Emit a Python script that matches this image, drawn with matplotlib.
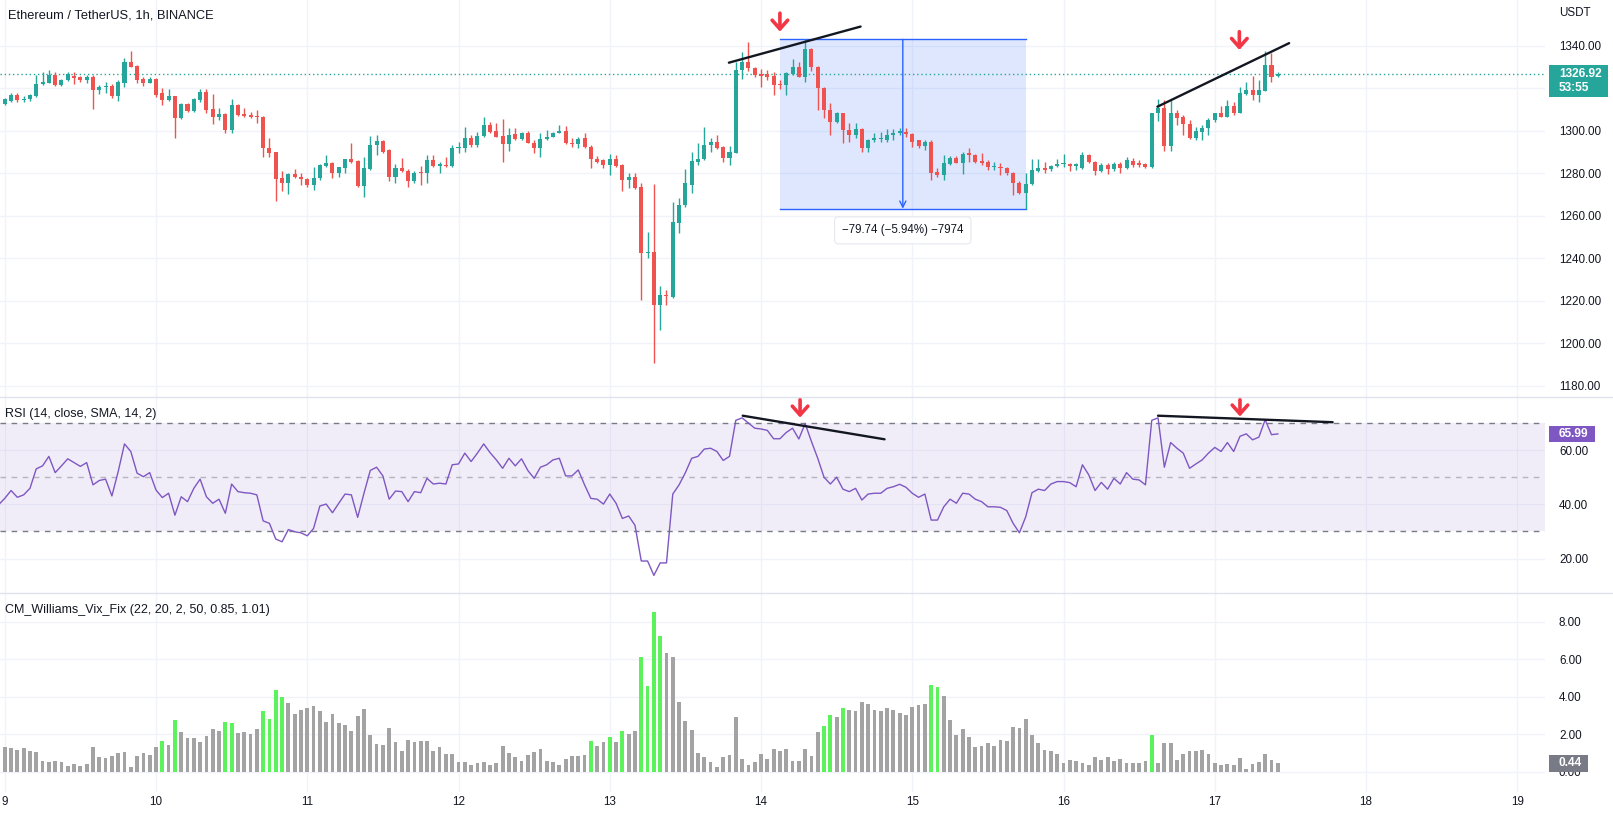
import numpy as np
import matplotlib
matplotlib.use('Agg')
import matplotlib.pyplot as plt
from matplotlib.patches import Rectangle
from matplotlib.lines import Line2D
from matplotlib.transforms import blended_transform_factory

plt.rcParams['font.family'] = ['Liberation Sans', 'DejaVu Sans']

# ---------------- data ----------------
first_hour = -1           # hours since the 9th, 00:00 (first bar = 8th 23:00)
days = list(range(9, 20))

opens = [1310.7,1312.7,1314.3,1317.0,1314.6,1314.9,1316.5,1322.1,1322.7,1326.5,
 1321.4,1324.0,1326.0,1325.3,1324.0,1325.3,1319.3,1320.5,1321.2,1316.2,
 1322.7,1332.6,1330.7,1324.5,1322.7,1324.5,1317.9,1314.6,1316.5,1306.0,
 1312.7,1309.6,1314.6,1318.5,1310.5,1306.7,1307.9,1300.5,1312.2,1307.9,
 1307.5,1307.2,1306.7,1291.8,1289.9,1277.7,1275.7,1279.8,1278.5,1277.4,
 1274.6,1277.7,1283.7,1284.8,1280.4,1282.7,1286.7,1286.0,1274.3,1282.1,
 1293.3,1295.2,1291.1,1278.5,1282.4,1281.3,1276.2,1280.9,1280.1,1286.4,
 1283.5,1284.0,1283.5,1291.8,1291.8,1296.6,1293.4,1297.6,1302.8,1300.0,
 1297.6,1293.9,1298.6,1296.1,1299.2,1294.5,1291.8,1296.1,1297.3,1299.2,
 1300.0,1294.5,1293.9,1296.6,1292.6,1287.0,1286.4,1284.0,1287.0,1284.0,
 1276.9,1278.2,1273.5,1242.4,1242.9,1218.1,1222.8,1222.0,1256.9,1265.2,
 1274.6,1285.6,1286.7,1293.4,1295.0,1292.6,1287.2,1289.8,1328.7,1332.6,
 1329.5,1326.8,1326.8,1325.9,1321.9,1321.6,1326.8,1330.3,1325.6,1338.4,
 1330.3,1320.1,1309.9,1304.4,1308.3,1300.2,1298.1,1300.8,1291.8,1295.8,
 1296.1,1295.8,1298.1,1299.2,1299.7,1298.6,1295.5,1292.9,1295.0,1280.9,
 1279.3,1284.5,1287.2,1285.1,1289.5,1288.7,1286.0,1285.6,1282.9,1283.2,
 1282.4,1280.4,1275.7,1270.7,1275.1,1281.3,1282.4,1281.9,1283.5,1284.3,
 1284.5,1283.5,1282.4,1288.7,1285.6,1281.3,1284.0,1282.0,1284.5,1282.4,
 1286.0,1284.8,1284.5,1282.9,1308.3,1310.7,1293.1,1308.3,1306.4,1303.3,
 1296.6,1299.7,1301.3,1305.2,1308.3,1306.7,1311.8,1308.6,1317.5,1319.3,
 1317.0,1319.0,1331.1,1325.9]

highs = [1313.8,1315.7,1317.8,1318.0,1316.2,1317.5,1326.4,1327.5,1328.7,1327.5,
 1324.5,1327.5,1327.5,1326.0,1326.2,1326.2,1321.6,1323.2,1322.0,1324.0,
 1334.2,1337.8,1331.0,1325.6,1325.3,1324.8,1320.1,1319.6,1316.5,1313.0,
 1313.3,1315.4,1319.6,1319.6,1317.2,1310.7,1308.3,1314.9,1312.7,1310.7,
 1309.1,1309.9,1307.1,1296.6,1290.3,1281.3,1280.4,1282.0,1280.1,1277.7,
 1283.2,1284.5,1288.7,1285.6,1283.2,1287.0,1294.5,1286.4,1287.9,1297.6,
 1298.3,1295.8,1291.4,1284.5,1287.2,1281.9,1281.0,1283.5,1288.7,1288.7,
 1285.6,1287.9,1293.4,1295.0,1302.0,1298.2,1299.7,1306.4,1304.4,1303.6,
 1305.5,1301.6,1301.6,1299.7,1300.0,1295.8,1298.9,1300.5,1299.7,1302.8,
 1302.4,1296.6,1297.0,1298.9,1293.4,1288.2,1286.7,1289.2,1288.7,1284.3,
 1280.4,1280.1,1275.4,1252.6,1275.1,1227.1,1225.3,1266.7,1268.3,1282.0,
 1290.3,1294.5,1301.7,1296.6,1298.1,1292.9,1292.9,1332.6,1336.9,1342.0,
 1330.3,1329.2,1328.7,1327.6,1324.0,1327.9,1333.7,1332.6,1343.1,1338.9,
 1330.6,1320.5,1313.0,1309.1,1308.6,1303.9,1303.9,1301.2,1296.1,1298.9,
 1299.7,1300.8,1300.8,1301.2,1301.2,1298.9,1295.8,1295.8,1295.5,1282.4,
 1288.7,1288.0,1288.0,1290.3,1291.8,1289.2,1289.8,1286.4,1285.6,1284.8,
 1283.2,1280.9,1276.2,1280.1,1286.7,1286.7,1285.6,1284.0,1286.7,1289.2,
 1284.8,1284.8,1290.3,1289.2,1286.0,1284.8,1284.8,1285.6,1285.6,1287.6,
 1287.2,1286.4,1284.8,1308.6,1314.9,1314.6,1314.6,1309.9,1307.5,1305.2,
 1301.7,1302.8,1306.0,1308.6,1311.8,1314.6,1313.8,1320.5,1323.2,1325.9,
 1324.0,1337.8,1336.6,1327.5]

lows = [1310.2,1312.2,1313.8,1313.8,1313.8,1314.3,1315.9,1321.6,1322.4,1321.0,
 1321.0,1323.5,1322.0,1323.0,1322.4,1310.2,1317.2,1317.7,1315.5,1314.3,
 1320.5,1330.0,1322.7,1320.9,1322.4,1315.9,1312.2,1314.3,1296.6,1305.5,
 1309.0,1309.1,1313.8,1308.3,1303.3,1305.2,1299.2,1299.2,1307.0,1306.4,
 1306.0,1303.6,1287.9,1287.9,1267.1,1271.9,1270.4,1277.7,1274.6,1273.8,
 1272.2,1276.9,1283.2,1278.0,1278.5,1280.1,1284.8,1273.8,1269.1,1281.7,
 1288.7,1289.5,1276.5,1275.7,1280.8,1273.8,1275.7,1274.6,1275.4,1283.0,
 1280.1,1283.2,1283.2,1289.5,1290.3,1292.6,1292.6,1297.3,1298.9,1297.0,
 1285.6,1290.7,1295.8,1295.8,1294.2,1289.5,1287.6,1295.8,1297.0,1298.9,
 1293.9,1292.6,1291.9,1291.8,1282.4,1284.8,1282.4,1279.3,1283.0,1271.9,
 1273.0,1272.6,1220.5,1240.1,1190.6,1206.4,1218.1,1221.2,1251.9,1264.4,
 1270.7,1284.0,1286.4,1290.3,1291.4,1285.6,1284.0,1289.5,1324.3,1328.0,
 1325.6,1320.5,1324.0,1317.0,1319.6,1317.0,1326.4,1325.3,1323.2,1328.4,
 1309.9,1306.0,1298.1,1303.9,1294.2,1295.0,1296.6,1290.3,1290.3,1295.0,
 1295.0,1295.0,1295.8,1298.0,1297.3,1292.6,1291.8,1291.1,1276.9,1278.5,
 1276.9,1284.0,1284.8,1279.8,1285.6,1284.8,1284.0,1281.7,1281.7,1279.3,
 1279.3,1269.9,1270.4,1263.4,1274.6,1280.9,1280.4,1281.3,1283.2,1283.2,
 1281.3,1281.6,1282.0,1284.8,1279.3,1280.9,1279.8,1281.3,1280.4,1282.0,
 1283.2,1283.2,1282.4,1282.4,1304.9,1290.7,1290.7,1302.8,1298.1,1296.1,
 1295.8,1295.8,1298.1,1304.4,1306.4,1306.4,1307.6,1308.3,1317.0,1314.6,
 1313.8,1318.6,1323.2,1325.6]

closes = [1313.0,1314.9,1317.0,1314.6,1315.2,1317.0,1322.1,1323.2,1326.5,1321.4,
 1324.0,1326.8,1325.1,1324.0,1325.3,1319.3,1320.5,1321.2,1316.2,1323.2,
 1332.6,1330.3,1324.0,1322.7,1324.5,1317.0,1314.6,1316.5,1306.3,1312.7,
 1309.4,1314.9,1318.5,1309.9,1306.7,1307.9,1300.5,1312.2,1307.5,1307.1,
 1306.7,1306.4,1291.8,1289.8,1277.4,1275.7,1279.8,1278.2,1277.3,1274.6,
 1277.7,1284.0,1284.8,1280.4,1282.9,1286.7,1285.6,1274.3,1282.4,1293.3,
 1295.2,1290.3,1278.5,1282.4,1281.3,1276.2,1280.4,1280.1,1286.4,1283.5,
 1284.5,1283.5,1291.8,1292.6,1296.6,1293.4,1297.6,1302.8,1299.7,1297.3,
 1293.9,1298.1,1296.1,1298.9,1294.5,1291.8,1296.1,1297.3,1299.2,1300.0,
 1294.2,1293.9,1296.1,1292.3,1286.7,1285.6,1284.0,1287.0,1283.5,1276.9,
 1278.5,1273.3,1242.4,1243.2,1218.1,1222.8,1222.4,1257.3,1265.2,1275.4,
 1286.0,1286.7,1293.4,1295.0,1291.8,1287.2,1290.3,1328.7,1332.6,1329.5,
 1326.4,1325.9,1325.6,1321.6,1321.4,1327.1,1330.3,1325.6,1338.4,1330.3,
 1320.1,1309.9,1304.4,1308.3,1300.2,1298.1,1300.8,1291.8,1295.8,1296.6,
 1296.6,1298.1,1299.2,1300.0,1298.6,1295.0,1292.9,1295.0,1280.4,1279.3,
 1284.8,1287.2,1285.1,1289.2,1288.7,1285.6,1284.8,1282.9,1283.2,1282.4,
 1280.1,1275.4,1270.7,1275.1,1281.6,1282.4,1281.6,1283.5,1284.5,1284.6,
 1283.5,1284.5,1288.7,1285.6,1281.3,1284.0,1282.0,1284.5,1282.4,1286.4,
 1284.0,1284.0,1282.9,1308.3,1310.7,1293.1,1308.3,1306.0,1303.3,1296.6,
 1300.0,1301.6,1305.2,1308.3,1306.7,1311.8,1308.6,1317.7,1319.3,1317.0,
 1319.3,1331.1,1325.3,1326.92]

rsi = [39.8,42.2,45.1,42.6,43.5,45.9,53.1,54.2,57.7,51.7,
 54.2,56.8,55.4,54.0,55.4,47.2,48.8,49.3,43.1,52.1,
 62.3,59.5,51.5,50.2,51.7,45.3,42.5,44.1,36.0,42.8,
 41.0,45.9,49.3,42.8,40.4,41.9,36.7,47.5,44.7,44.3,
 44.1,43.5,33.9,33.0,27.2,26.2,30.7,29.9,29.5,28.4,
 31.1,39.4,40.1,36.9,40.4,43.8,43.5,35.2,44.1,52.5,
 53.7,50.5,41.9,44.9,44.7,41.0,44.7,44.3,49.6,47.5,
 47.8,47.5,54.6,54.9,58.9,55.8,58.9,62.3,59.1,56.4,
 53.3,57.0,54.2,56.8,52.5,49.6,53.7,54.6,56.4,57.0,
 50.5,50.5,52.7,47.2,42.2,41.9,40.1,43.8,40.4,34.8,
 35.7,32.3,19.1,19.1,13.8,18.4,18.4,43.8,47.2,51.7,
 57.0,57.7,60.4,60.7,59.5,56.2,57.7,71.0,71.9,70.0,
 68.1,67.8,67.3,64.2,64.2,66.5,68.1,64.1,
 69.8,63.2,57.0,50.0,47.5,50.0,45.6,44.7,45.9,41.6,
 43.8,44.1,44.1,45.9,46.5,47.4,46.3,44.1,42.6,43.8,
 34.2,34.2,39.1,41.9,40.4,44.1,43.8,41.9,41.0,39.1,
 39.1,38.9,37.7,33.0,29.5,35.4,44.3,45.6,45.1,47.5,
 48.4,48.4,48.0,46.5,54.6,50.9,45.1,48.1,45.6,49.6,
 47.5,51.7,49.3,49.0,47.2,71.0,71.9,53.7,62.8,60.7,
 58.9,53.3,54.9,56.4,58.9,61.0,59.5,62.8,59.5,65.1,
 66.0,63.8,64.8,71.2,65.7,65.99]

vix = [1.62,1.33,1.26,1.16,1.26,1.12,1.07,0.55,0.50,0.59,
 0.53,0.28,0.41,0.32,0.41,1.30,0.76,0.73,0.85,0.98,
 1.03,0.23,0.82,0.98,0.91,1.33,1.62,1.44,2.76,2.13,
 1.78,1.78,1.56,1.88,2.28,2.15,2.63,2.58,2.04,2.10,
 2.01,2.28,3.25,2.81,4.37,4.00,3.66,3.08,3.31,3.38,
 3.52,3.25,2.67,3.08,2.60,2.49,2.19,2.99,3.34,1.97,
 1.48,1.44,2.33,1.56,1.12,1.69,1.56,1.65,1.62,1.12,
 1.30,0.94,0.94,0.53,0.53,0.37,0.44,0.50,0.37,0.44,
 1.39,0.98,0.80,0.59,0.91,1.07,1.21,0.59,0.53,0.37,
 0.68,0.82,0.85,0.91,1.65,1.39,1.60,1.87,1.60,2.19,
 2.01,2.19,6.13,4.59,8.50,7.25,6.31,6.13,3.73,2.72,
 2.22,1.00,0.80,0.53,0.27,0.76,0.89,2.93,0.68,0.37,
 0.53,0.94,0.68,1.21,1.12,1.21,0.59,0.55,
 1.21,0.85,2.13,2.45,3.04,2.90,3.38,3.31,3.22,3.70,
 3.61,3.31,3.25,3.40,3.31,3.11,3.04,3.47,3.57,3.61,
 4.62,4.53,4.05,2.77,1.97,2.28,1.83,1.30,1.39,1.51,
 1.39,1.71,1.65,2.36,2.31,2.81,1.97,1.53,1.16,1.12,
 0.94,0.46,0.62,0.59,0.46,0.37,0.80,0.64,0.76,0.59,
 0.68,0.46,0.46,0.46,0.59,1.97,0.46,1.53,1.53,0.62,
 0.94,1.08,1.08,1.16,0.94,0.46,0.37,0.41,0.37,0.73,
 0.14,0.41,0.50,0.94,0.62,0.44]

vix_lime_hours = [25, 27, 35, 36, 41, 42, 43, 44, 93, 96, 98, 101, 102, 103, 104,
                  130, 131, 133, 147, 148, 182]

last_price = 1326.92
countdown = "53:55"
price_ticks = [1180, 1200, 1220, 1240, 1260, 1280, 1300, 1320, 1340]
rsi_ticks = [20, 40, 60]
vix_ticks = [0, 2, 4, 6, 8]

# drawings (hour index, value)
price_trend1 = ([114.9, 135.8], [1332.1, 1349.1])
price_trend2 = ([182.9, 203.8], [1311.4, 1341.3])
rsi_trend1 = ([117.1, 139.6], [72.7, 64.0])
rsi_trend2 = ([183.0, 210.7], [72.7, 70.3])
price_arrows = [(123.0, 1355.4, 1346.7), (195.9, 1346.7, 1338.1)]
rsi_arrows = [(126.2, 78.6, 72.0), (196.0, 78.6, 72.4)]
range_start, range_end = 123, 162
range_top, range_bottom = 1343.1, 1263.4
range_label = "\u221279.74 (\u22125.94%) \u22127974"

# ---------------- style ----------------
UP, DOWN = '#26a69a', '#ef5350'
TXT = '#131722'
GRID = '#f0f3fa'
W, H = 1613, 815
PLOT_R = 1545
fig = plt.figure(figsize=(W / 100, H / 100), dpi=100)
fig.patch.set_facecolor('white')

def rect(top, bottom):
    return [0, 1 - bottom / H, PLOT_R / W, (bottom - top) / H]

ax1 = fig.add_axes(rect(0, 397))
ax2 = fig.add_axes(rect(397, 593))
ax3 = fig.add_axes(rect(593, 792))

x = np.arange(first_hour, first_hour + len(closes))
day_hours = [24 * (d - 9) for d in days]
o = np.array(opens); h = np.array(highs); l = np.array(lows); c = np.array(closes)

for ax in (ax1, ax2, ax3):
    ax.set_xlim(-0.754, 244.4)
    for s in ax.spines.values():
        s.set_visible(False)
    ax.yaxis.tick_right()
    ax.tick_params(axis='y', length=0, pad=10, labelsize=8.4, labelcolor=TXT)
    ax.tick_params(axis='x', length=0)
    ax.set_xticks(day_hours)
    for dh in day_hours:
        ax.axvline(dh, color=GRID, lw=1, zorder=0)
    ax.set_facecolor('none')

ax1.set_xticklabels([])
ax2.set_xticklabels([])
ax3.set_xticklabels([str(d) for d in days])
ax3.tick_params(axis='x', pad=3, labelsize=8.4, labelcolor=TXT)

# ---- price pane ----
ax1.set_ylim(1174.8, 1361.6)
ax1.set_yticks(price_ticks)
ax1.set_yticklabels(['' if t == 1320 else f'{t:.2f}' for t in price_ticks])
for t in price_ticks:
    ax1.axhline(t, color=GRID, lw=1, zorder=0)

ax1.add_patch(Rectangle((range_start, range_bottom), range_end - range_start,
                        range_top - range_bottom, facecolor=(41/255, 98/255, 1, 0.15),
                        edgecolor='none', zorder=1))
ax1.plot([range_start, range_end], [range_top, range_top], color='#2962ff', lw=1, zorder=1.5)
ax1.plot([range_start, range_end], [range_bottom, range_bottom], color='#2962ff', lw=1, zorder=1.5)
mid = (range_start + range_end) / 2
ax1.annotate('', xy=(mid, range_bottom), xytext=(mid, range_top),
             arrowprops=dict(arrowstyle='->', color='#2962ff', lw=1, shrinkA=0, shrinkB=0,
                             mutation_scale=11), zorder=1.5)

colors = np.where(c >= o, UP, DOWN)
ax1.vlines(x, l, h, colors=colors, lw=1, zorder=2)
ax1.bar(x, np.maximum(np.abs(c - o), 0.45), bottom=np.minimum(o, c), width=0.64,
        color=colors, linewidth=0, zorder=3)

ax1.axhline(last_price, color=UP, lw=1, ls=(0, (1, 2)), zorder=2)

for tx, ty in (price_trend1, price_trend2):
    ax1.plot(tx, ty, color='#131722', lw=1.7, solid_capstyle='round', zorder=4)
for ax_, arrows in ((ax1, price_arrows), (ax2, rsi_arrows)):
    for ax_x, y0, y1 in arrows:
        ax_.annotate('', xy=(ax_x, y1), xytext=(ax_x, y0),
                     arrowprops=dict(arrowstyle='->,head_length=0.45,head_width=0.4',
                                     color='#f23645', lw=2.6, shrinkA=0, shrinkB=0,
                                     mutation_scale=14, capstyle='round', joinstyle='round'),
                     zorder=5, annotation_clip=False)

ax1.text(mid, 1253.2, range_label, ha='center', va='center', fontsize=8.3, color=TXT,
         zorder=6, bbox=dict(boxstyle='round,pad=0.65,rounding_size=0.35', fc='white',
                             ec='#e6e8ee', lw=0.8))

# ---- RSI pane ----
ax2.set_ylim(7.3, 79.6)
ax2.set_yticks(rsi_ticks)
ax2.set_yticklabels([f'{t:.2f}' for t in rsi_ticks])
for t in rsi_ticks:
    ax2.axhline(t, color=GRID, lw=1, zorder=0)
ax2.axhspan(30, 70, color='#7e57c2', alpha=0.1, lw=0, zorder=0.5)
ax2.axhline(70, color='#787b86', lw=1, ls=(0, (4, 4)), zorder=1)
ax2.axhline(50, color='#787b86', lw=1, ls=(0, (4, 4)), alpha=0.5, zorder=1)
ax2.axhline(30, color='#787b86', lw=1, ls=(0, (4, 4)), zorder=1)
ax2.plot(x, rsi, color='#7e57c2', lw=1, zorder=3)
for tx, ty in (rsi_trend1, rsi_trend2):
    ax2.plot(tx, ty, color='#131722', lw=1.7, solid_capstyle='round', zorder=4)

# ---- Vix fix pane ----
ax3.set_ylim(-1.08, 9.53)
ax3.set_yticks(vix_ticks)
ax3.set_yticklabels([f'{t:.2f}' for t in vix_ticks])
for t in vix_ticks:
    ax3.axhline(t, color=GRID, lw=1, zorder=0)
vcol = ['#5cf25c' if hr in vix_lime_hours else '#a3a3a3' for hr in x]
ax3.bar(x, vix, width=0.6, color=vcol, linewidth=0, zorder=2)

# ---- right-scale value labels ----
def value_box(ax, val, top_px, bot_px, width_px, color, lines, scale_px):
    tr = blended_transform_factory(ax.transAxes, ax.transData)
    ax.add_patch(Rectangle((1549 / PLOT_R, val - bot_px / scale_px), width_px / PLOT_R,
                           (top_px + bot_px) / scale_px, transform=tr, facecolor=color,
                           edgecolor='none', clip_on=False, zorder=10))
    for dy, txt in lines:
        ax.text(1559 / PLOT_R, val - dy / scale_px, txt, transform=tr, ha='left',
                va='center', color='white', fontsize=8.6, fontweight='bold',
                clip_on=False, zorder=11)

value_box(ax1, last_price, 8.8, 23.2, 59, UP, [(0, f'{last_price:.2f}'), (14, countdown)], 2.125)
value_box(ax2, rsi[-1], 8.0, 8.0, 46, '#7e57c2', [(0, f'{rsi[-1]:.2f}')], 2.7125)
value_box(ax3, vix[-1], 8.5, 8.5, 39, '#787b86', [(0, f'{vix[-1]:.2f}')], 18.75)

# ---- texts & separators ----
fig.text(8 / W, 1 - 16 / H, 'Ethereum / TetherUS, 1h, BINANCE', fontsize=9.3, color=TXT,
         va='center', ha='left')
fig.text(5 / W, 1 - 414 / H, 'RSI (14, close, SMA, 14, 2)', fontsize=9, color=TXT,
         va='center', ha='left')
fig.text(5 / W, 1 - 610 / H, 'CM_Williams_Vix_Fix (22, 20, 2, 50, 0.85, 1.01)', fontsize=9,
         color=TXT, va='center', ha='left')
fig.text(1559 / W, 1 - 13 / H, 'USDT', fontsize=8.4, color=TXT, va='center', ha='left')
for yy in (397, 593):
    fig.add_artist(Line2D([0, 1], [1 - yy / H] * 2, transform=fig.transFigure,
                          color='#e0e3eb', lw=1))

fig.savefig('out.png', dpi=100)
